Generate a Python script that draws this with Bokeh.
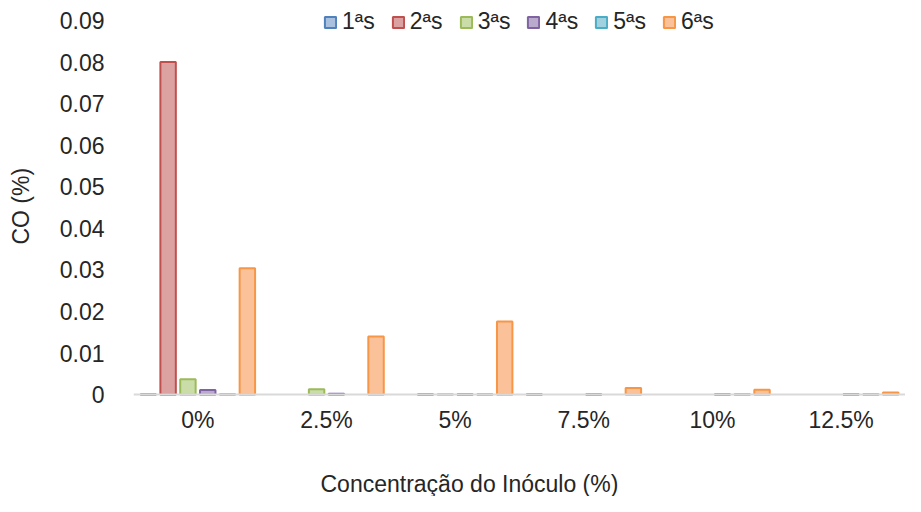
from bokeh.plotting import figure
from bokeh.models import FactorRange, Range1d, FixedTicker, Legend, LegendItem, Label, ColumnDataSource
from bokeh.transform import dodge
from bokeh.embed import file_html
from bokeh.resources import INLINE

categories = ["0%", "2.5%", "5%", "7.5%", "10%", "12.5%"]
series_names = ["1ªs", "2ªs", "3ªs", "4ªs", "5ªs", "6ªs"]
s1 = [0.0001, 0.0, 0.0, 0.0001, 0.0, 0.0]
s2 = [0.0800, 0.0, 0.0001, 0.0, 0.0, 0.0]
s3 = [0.0037, 0.0013, 0.0001, 0.0, 0.0, 0.0]
s4 = [0.0011, 0.0002, 0.0001, 0.0001, 0.0001, 0.0001]
s5 = [0.0001, 0.0, 0.0001, 0.0, 0.0001, 0.0001]
s6 = [0.0304, 0.0140, 0.0176, 0.0016, 0.0012, 0.0005]
series_values = [s1, s2, s3, s4, s5, s6]
y_ticks = [0, 0.01, 0.02, 0.03, 0.04, 0.05, 0.06, 0.07, 0.08, 0.09]
y_tick_labels = ["0", "0.01", "0.02", "0.03", "0.04", "0.05", "0.06", "0.07", "0.08", "0.09"]
x_title = "Concentração do Inóculo (%)"
y_title = "CO (%)"

line_colors = ["#4F81BD", "#C0504D", "#9BBB59", "#8064A2", "#4BACC6", "#F79646"]
fill_colors = ["#A9C0DF", "#DBA2A1", "#CADCA8", "#BAABCD", "#A0D1DF", "#FBC198"]

FONT = "Liberation Sans"
TXT = "#262626"
FS = "23px"

# frame spans the whole height below the top so the x title can sit inside it
p = figure(x_range=FactorRange(factors=categories), y_range=Range1d(-0.0245, 0.0936),
           width=905, height=496, output_backend="svg", toolbar_location=None,
           min_border_left=133, min_border_right=0, min_border_top=5, min_border_bottom=0)
p.outline_line_color = None
p.xgrid.visible = False
p.ygrid.visible = False
p.background_fill_color = "white"
p.border_fill_color = "white"

p.yaxis.ticker = FixedTicker(ticks=y_ticks)
p.yaxis.major_label_overrides = {t: l for t, l in zip(y_ticks, y_tick_labels)}
p.yaxis.axis_line_color = None
p.yaxis.major_tick_line_color = None
p.yaxis.minor_tick_line_color = None
p.yaxis.major_label_standoff = 23
# leading no-break spaces lift the rotated title to the centre of the 0..0.09 span
p.yaxis.axis_label = "\u00a0" * 14 + y_title
p.yaxis.axis_label_standoff = 23
p.yaxis.axis_label_text_font_style = "normal"

p.xaxis.fixed_location = 0
p.xaxis.axis_line_color = "#D9D9D9"
p.xaxis.axis_line_width = 2
p.xaxis.major_tick_line_color = None
p.xaxis.minor_tick_line_color = None
p.xaxis.major_label_standoff = 6

for ax in (p.xaxis[0], p.yaxis[0]):
    ax.major_label_text_font = FONT
    ax.major_label_text_font_size = FS
    ax.major_label_text_color = TXT
    ax.axis_label_text_font = FONT
    ax.axis_label_text_font_size = FS
    ax.axis_label_text_color = TXT

items = []
n = len(series_values)
for i, (name, vals) in enumerate(zip(series_names, series_values)):
    xs = [c for c, v in zip(categories, vals) if v > 0]
    tops = [v for v in vals if v > 0]
    src = ColumnDataSource(data=dict(x=xs, top=tops))
    offset = (i - (n - 1) / 2) * 0.154
    r = p.vbar(x=dodge("x", offset, range=p.x_range), top="top", width=0.12, source=src,
               fill_color=fill_colors[i], line_color=line_colors[i], line_width=2)
    items.append(LegendItem(label=name, renderers=[r]))

legend = Legend(items=items, orientation="horizontal", location=(190, 461),
                label_text_font=FONT, label_text_font_size=FS, label_text_color=TXT,
                glyph_width=14, glyph_height=14, label_standoff=5, spacing=16,
                padding=0, margin=0, border_line_color=None, background_fill_alpha=0)
p.add_layout(legend, "center")

xlab = Label(x=2.611, y=-0.0215, x_units="data", y_units="data", text=x_title,
             text_align="center", text_baseline="middle", text_font=FONT,
             text_font_size=FS, text_color=TXT)
p.add_layout(xlab)

open("out.html", "w").write(file_html(p, INLINE))
